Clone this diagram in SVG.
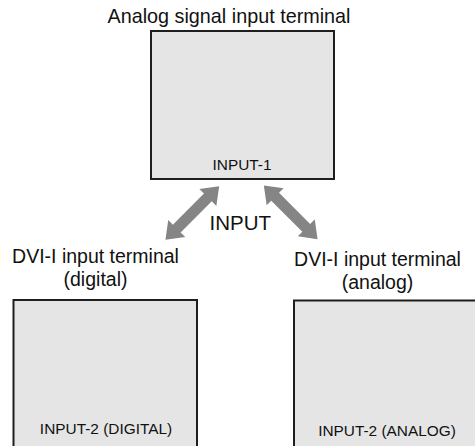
<svg xmlns="http://www.w3.org/2000/svg" xmlns:xlink="http://www.w3.org/1999/xlink" width="475" height="446" viewBox="0 0 475 446">
<style>
  .box { fill: #e5e5e5; stroke: #1e1e1e; stroke-width: 2; }
  .lbl { font-family: "Liberation Sans", Arial, sans-serif; font-size: 19.5px; fill: #111; text-anchor: middle; }
  .in { font-family: "Liberation Sans", Arial, sans-serif; font-size: 15.4px; fill: #111; text-anchor: middle; }
  .arrow { fill: #858585; }
</style>
<defs>
  <polygon id="dbl" class="arrow" points="-38,0 -22,-12 -22,-5.5 22,-5.5 22,-12 38,0 22,12 22,5.5 -22,5.5 -22,12"/>
</defs>
<rect width="475" height="446" fill="#ffffff"/>
<g id="node-input1">
  <text class="lbl" x="229" y="23" style="font-size:19.8px">Analog signal input terminal</text>
  <rect class="box" x="151" y="31" width="183" height="148"/>
  <text class="in" x="242" y="170">INPUT-1</text>
</g>
<g id="node-input2-digital">
  <text class="lbl" x="95.5" y="263">DVI-I input terminal</text>
  <text class="lbl" x="95.5" y="286">(digital)</text>
  <rect class="box" x="13.5" y="300" width="183.5" height="160"/>
  <text class="in" x="106" y="434">INPUT-2 (DIGITAL)</text>
</g>
<g id="node-input2-analog">
  <text class="lbl" x="377.5" y="265.5">DVI-I input terminal</text>
  <text class="lbl" x="377.5" y="288.5">(analog)</text>
  <rect class="box" x="294" y="300.5" width="185" height="160"/>
  <text class="in" x="387" y="436">INPUT-2 (ANALOG)</text>
</g>
<g id="connectors">
  <use xlink:href="#dbl" transform="translate(192.3,213) rotate(-45)"/>
  <use xlink:href="#dbl" transform="translate(290.7,212.3) rotate(45)"/>
  <text class="lbl" x="240.3" y="230" style="font-size:20.5px">INPUT</text>
</g>
</svg>
